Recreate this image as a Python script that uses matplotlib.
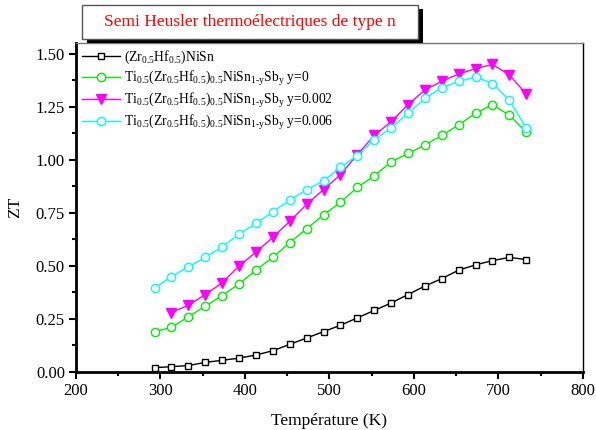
import matplotlib
matplotlib.use("Agg")
import matplotlib.pyplot as plt
from matplotlib.patches import Rectangle
from matplotlib.ticker import MultipleLocator

plt.rcParams["font.family"] = ["Liberation Serif", "DejaVu Serif"]
plt.rcParams["mathtext.fontset"] = "custom"
plt.rcParams["mathtext.rm"] = "Liberation Serif"

# temperatures (K)
temp = [293, 313, 333, 353, 373, 393, 413, 433, 453, 473, 493, 513,
        533, 553, 573, 593, 613, 633, 653, 673, 693, 713, 733]
temp_y002 = temp[1:]

zt_base = [0.02, 0.025, 0.03, 0.045, 0.055, 0.065, 0.08, 0.10, 0.13, 0.16,
           0.19, 0.22, 0.255, 0.29, 0.325, 0.365, 0.405, 0.44, 0.48, 0.505,
           0.525, 0.54, 0.53]
zt_y0 = [0.19, 0.21, 0.26, 0.31, 0.36, 0.415, 0.48, 0.54, 0.61, 0.675,
         0.74, 0.80, 0.87, 0.925, 0.99, 1.03, 1.07, 1.115, 1.165, 1.22,
         1.26, 1.21, 1.13]
zt_y002 = [0.28, 0.315, 0.365, 0.42, 0.50, 0.565, 0.635, 0.71, 0.79,
           0.86, 0.93, 1.025, 1.115, 1.18, 1.26, 1.33, 1.37, 1.405, 1.43,
           1.45, 1.40, 1.31]
zt_y006 = [0.395, 0.45, 0.495, 0.54, 0.59, 0.65, 0.70, 0.755, 0.81, 0.86,
           0.90, 0.965, 1.02, 1.095, 1.15, 1.22, 1.29, 1.34, 1.37, 1.39,
           1.36, 1.28, 1.15]


def sub(s):
    return r"$_{\text{%s}}$" % s


lab_base = "(Zr" + sub("0.5") + "Hf" + sub("0.5") + ")NiSn"
lab_ti = ("Ti" + sub("0.5") + "(Zr" + sub("0.5") + "Hf" + sub("0.5") + ")"
          + sub("0.5") + "NiSn" + sub("1-y") + "Sb" + sub("y"))

fig = plt.figure(figsize=(5.96, 4.30), dpi=100)
ax = fig.add_axes([0.1275, 0.135, 0.8505, 0.766])

ax.plot(temp, zt_base, "-s", color="black", mfc="white", ms=5, mew=1,
        lw=1, label=lab_base)
ax.plot(temp, zt_y0, "-o", color="#00ee00", mfc="white", ms=6, mew=1,
        lw=1, label=lab_ti + " y=0")
ax.plot(temp_y002, zt_y002, "-v", color="#ff00ff", ms=7, mew=1,
        lw=1, label=lab_ti + " y=0.002")
ax.plot(temp, zt_y006, "-o", color="#00ffff", mfc="white", ms=6, mew=1,
        lw=1, label=lab_ti + " y=0.006")

ax.set_xlim(200, 800)
ax.set_ylim(0, 1.553)
ax.xaxis.set_major_locator(MultipleLocator(100))
ax.xaxis.set_minor_locator(MultipleLocator(50))
ax.yaxis.set_major_locator(MultipleLocator(0.25))
ax.yaxis.set_minor_locator(MultipleLocator(0.125))
ax.yaxis.set_major_formatter(lambda v, p: "%.2f" % v)

ax.tick_params(axis="both", which="major", direction="out", length=5,
               width=1.5, labelsize=12, pad=3)
ax.tick_params(axis="both", which="minor", direction="out", length=3,
               width=1.5)
ax.spines["left"].set_linewidth(2)
ax.spines["bottom"].set_linewidth(2)
ax.spines["top"].set_linewidth(1)
ax.spines["top"].set_color("#777777")
ax.spines["right"].set_linewidth(1)

ax.set_xlabel("Température (K)", fontsize=12.5, labelpad=10)
ax.set_ylabel("ZT", fontsize=12.5, labelpad=9)

ax.legend(loc="upper left", frameon=False, fontsize=9.8, handlelength=2.8,
          borderaxespad=0.05, labelspacing=0.2, handletextpad=0.3)

# title box with drop shadow (pixel positions from the top-left corner)
W, H = 596.0, 430.0
x0, x1, y_top, y_bot = 82, 418, 4.5, 38.5
box_w = (x1 - x0) / W
box_h = (y_bot - y_top) / H
fig.patches.append(Rectangle(((x0 + 5) / W, 1 - (y_bot + 4.5) / H),
                             box_w, box_h, transform=fig.transFigure,
                             facecolor="black", edgecolor="none", zorder=5))
fig.patches.append(Rectangle((x0 / W, 1 - y_bot / H), box_w, box_h,
                             transform=fig.transFigure, facecolor="white",
                             edgecolor="#555555", lw=1, zorder=6))
fig.text((x0 + x1) / 2 / W, 1 - 21.5 / H,
         "Semi Heusler thermoélectriques de type n", color="red",
         fontsize=12.5, ha="center", va="center", zorder=7)

fig.savefig("out.png", dpi=100)
